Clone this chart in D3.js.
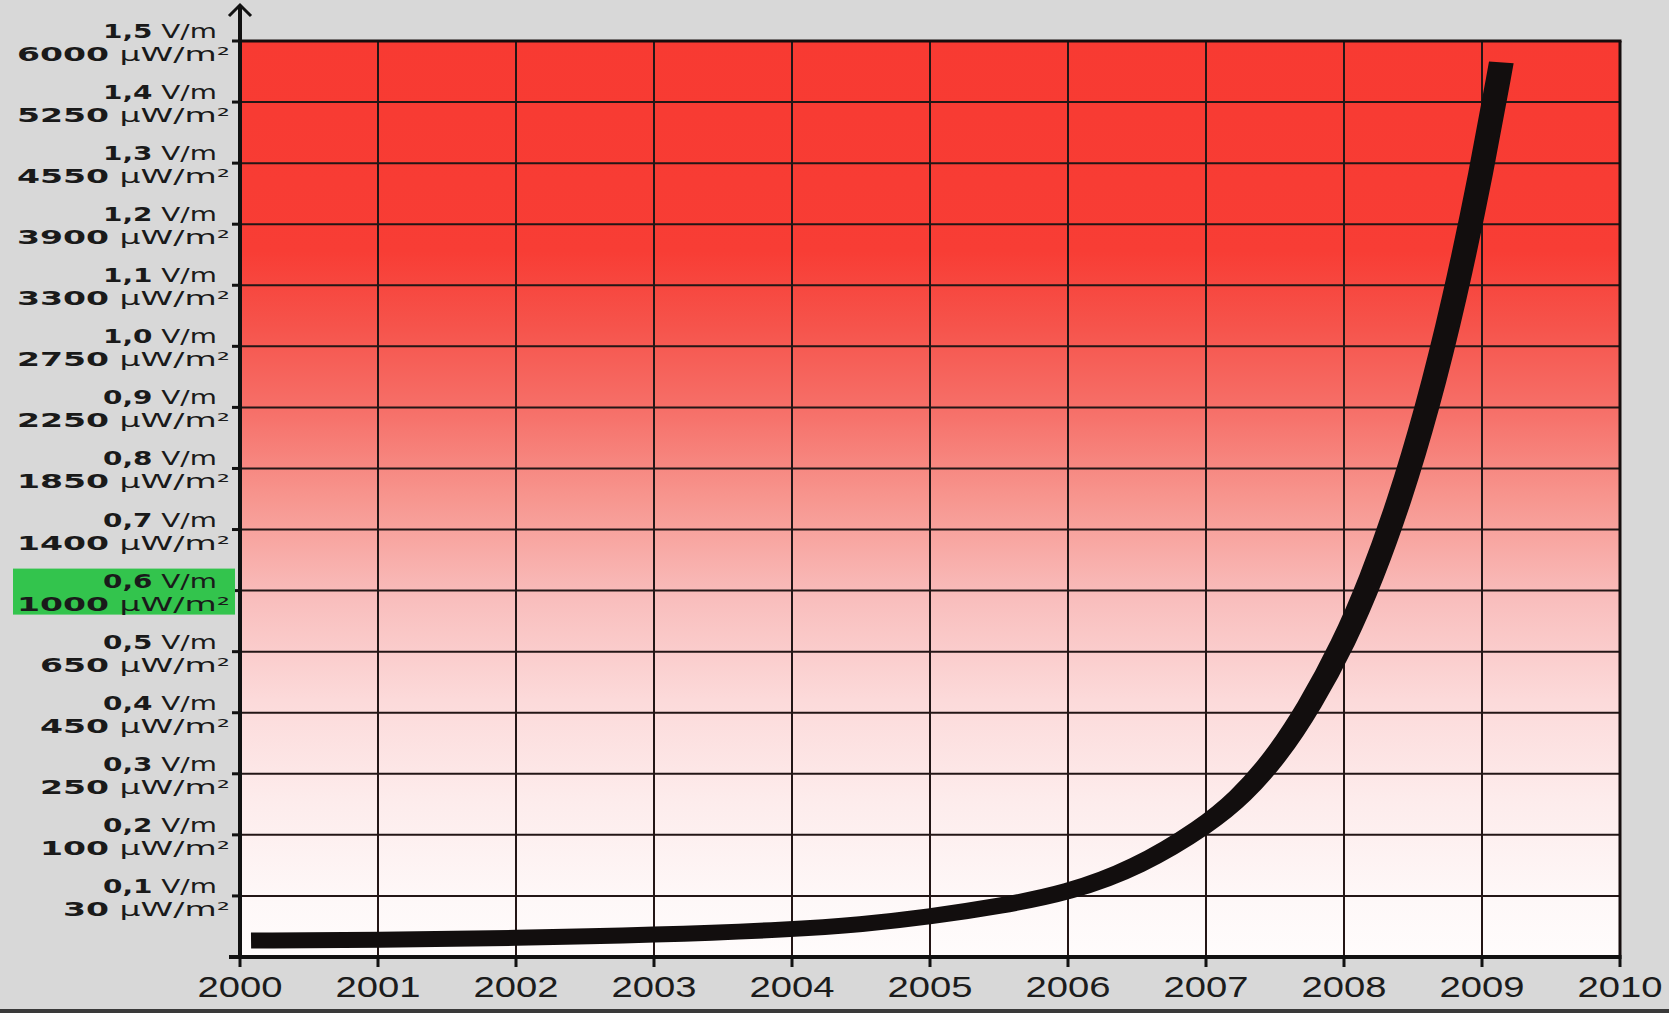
<!DOCTYPE html>
<html>
<head>
<meta charset="utf-8">
<script src="https://cdn.jsdelivr.net/npm/d3@7"></script>
<style>
  html, body { margin: 0; padding: 0; background: #d8d8d8; }
  svg { display: block; }
</style>
</head>
<body>
<script>
// ---- data ----
const years = [2000, 2001, 2002, 2003, 2004, 2005, 2006, 2007, 2008, 2009, 2010];
const levelsV = [0.1, 0.2, 0.3, 0.4, 0.5, 0.6, 0.7, 0.8, 0.9, 1.0, 1.1, 1.2, 1.3, 1.4, 1.5];
const labelsV = ["0,1", "0,2", "0,3", "0,4", "0,5", "0,6", "0,7", "0,8", "0,9", "1,0", "1,1", "1,2", "1,3", "1,4", "1,5"];
const labelsP = ["30", "100", "250", "450", "650", "1000", "1400", "1850", "2250", "2750", "3300", "3900", "4550", "5250", "6000"];
const highlightLevel = 0.6;
const curveYear = [2000.08, 2001, 2002, 2003, 2004, 2004.5, 2005, 2005.5, 2006, 2006.5, 2007, 2007.25, 2007.5, 2007.75, 2008, 2008.2, 2008.4, 2008.6, 2008.8, 2009, 2009.14];
const curveV    = [0.027, 0.028, 0.031, 0.036, 0.045, 0.053, 0.066, 0.083, 0.105, 0.146, 0.215, 0.262, 0.325, 0.410, 0.515, 0.620, 0.745, 0.895, 1.075, 1.290, 1.465];

(function () {
// ---- layout ----
const W = 1669, H = 1013;
const pL = 240, pR = 1620, pT = 41, pB = 957;
const stretch = 1.55;

const svg = d3.select("body").append("svg").attr("width", W).attr("height", H);
svg.append("rect").attr("width", W).attr("height", H).attr("fill", "#d8d8d8");
svg.append("rect").attr("x", 0).attr("y", 1009).attr("width", W).attr("height", 4).attr("fill", "#3a3a3a");

const x = d3.scaleLinear().domain([2000, 2010]).range([pL, pR]);
const y = d3.scaleLinear().domain([0, 1.5]).range([pB, pT]);

// gradient
const defs = svg.append("defs");
const grad = defs.append("linearGradient").attr("id", "bg").attr("x1", 0).attr("x2", 0).attr("y1", 0).attr("y2", 1);
[[0, "#f83a32"], [0.23, "#f83d35"], [0.31, "#f6534b"], [0.41, "#f6726b"], [0.5, "#f7968f"],
 [0.61, "#f9bebd"], [0.72, "#fcdada"], [0.83, "#fdecec"], [0.94, "#fef8f8"], [1, "#fffcfc"]]
  .forEach(([o, c]) => grad.append("stop").attr("offset", o).attr("stop-color", c));

svg.append("rect").attr("x", pL).attr("y", pT).attr("width", pR - pL).attr("height", pB - pT)
  .attr("fill", "url(#bg)");

// grid
const grid = svg.append("g").attr("stroke", "#231616").attr("stroke-width", 2);
grid.selectAll("line.h").data(levelsV.slice(0, -1)).join("line").attr("class", "h")
  .attr("x1", pL).attr("x2", pR).attr("y1", d => y(d)).attr("y2", d => y(d));
grid.selectAll("line.v").data(years.slice(1, -1)).join("line").attr("class", "v")
  .attr("y1", pT).attr("y2", pB).attr("x1", d => x(d)).attr("x2", d => x(d));

// border top & right
svg.append("line").attr("x1", pL).attr("x2", pR + 1.5).attr("y1", y(1.5)).attr("y2", y(1.5))
  .attr("stroke", "#150d0d").attr("stroke-width", 3);
svg.append("line").attr("x1", pR).attr("x2", pR).attr("y1", y(1.5)).attr("y2", pB)
  .attr("stroke", "#150d0d").attr("stroke-width", 3);

// curve (drawn in a horizontally stretched frame)
const xs = d3.scaleLinear().domain([2000, 2010]).range([pL / stretch, pR / stretch]);
const pts = curveYear.map((yr, i) => [yr, curveV[i]]);
const line = d3.line().x(d => xs(d[0])).y(d => y(d[1])).curve(d3.curveBasis);
svg.append("g").attr("transform", `scale(${stretch},1)`)
  .append("path").attr("d", line(pts)).attr("fill", "none")
  .attr("stroke", "#120e0e").attr("stroke-width", 16).attr("stroke-linecap", "butt");

// axes
const ax = svg.append("g").attr("stroke", "#111").attr("fill", "none");
ax.append("line").attr("x1", pL).attr("x2", pL).attr("y1", 6).attr("y2", pB + 2).attr("stroke-width", 4);
ax.append("line").attr("x1", pL - 11).attr("x2", pR + 1.5).attr("y1", pB).attr("y2", pB).attr("stroke-width", 4);
ax.append("path").attr("d", `M${pL - 11},${16} L${pL},${5} L${pL + 11},${16}`).attr("stroke-width", 3);
ax.selectAll("line.xt").data(years).join("line").attr("class", "xt")
  .attr("x1", d => x(d)).attr("x2", d => x(d)).attr("y1", pB).attr("y2", pB + 10).attr("stroke-width", 3);
ax.selectAll("line.yt").data(levelsV).join("line").attr("class", "yt")
  .attr("x1", pL - 8).attr("x2", pL).attr("y1", d => y(d)).attr("y2", d => y(d)).attr("stroke-width", 3);

// green highlight
svg.append("rect").attr("x", 13).attr("y", y(highlightLevel) - 22).attr("width", 222).attr("height", 46)
  .attr("fill", "#33c44d");

// y labels
const labG = svg.append("g").attr("fill", "#1a1a1a").style("font-family", "'DejaVu Sans', sans-serif").style("font-size", "19px");
function addLabel(num, unit) {
  const t = labG.append("text").attr("text-anchor", "start");
  t.append("tspan").attr("font-weight", "bold").text(num);
  t.append("tspan").attr("font-weight", "normal").text(unit);
  return t;
}
const lab1 = [], lab2 = [];
levelsV.forEach((v, i) => {
  lab1.push(addLabel(labelsV[i], " V/m"));
  lab2.push(addLabel(labelsP[i], " µW/m²"));
});
const w1 = lab1[14].node().getComputedTextLength();
const w2 = lab2[14].node().getComputedTextLength();
const s1 = 114 / w1, s2 = 213 / w2;
levelsV.forEach((v, i) => {
  const a = lab1[i], b = lab2[i];
  const wa = a.node().getComputedTextLength(), wb = b.node().getComputedTextLength();
  a.attr("transform", `translate(${217 - wa * s1},${y(v) - 3}) scale(${s1},1)`);
  b.attr("transform", `translate(${230 - wb * s2},${y(v) + 20}) scale(${s2},1)`);
});

// x labels
const xl = svg.append("g").attr("fill", "#1c1c1c").style("font-family", "'Liberation Sans', Arial, sans-serif").style("font-size", "30px");
const xt = xl.selectAll("text").data(years).join("text").text(d => d).attr("text-anchor", "middle");
const xw = xt.nodes()[0].getComputedTextLength();
const sx = 85 / xw;
xt.attr("transform", d => `translate(${x(d)},${997}) scale(${sx},1)`);
})();
</script>
</body>
</html>
